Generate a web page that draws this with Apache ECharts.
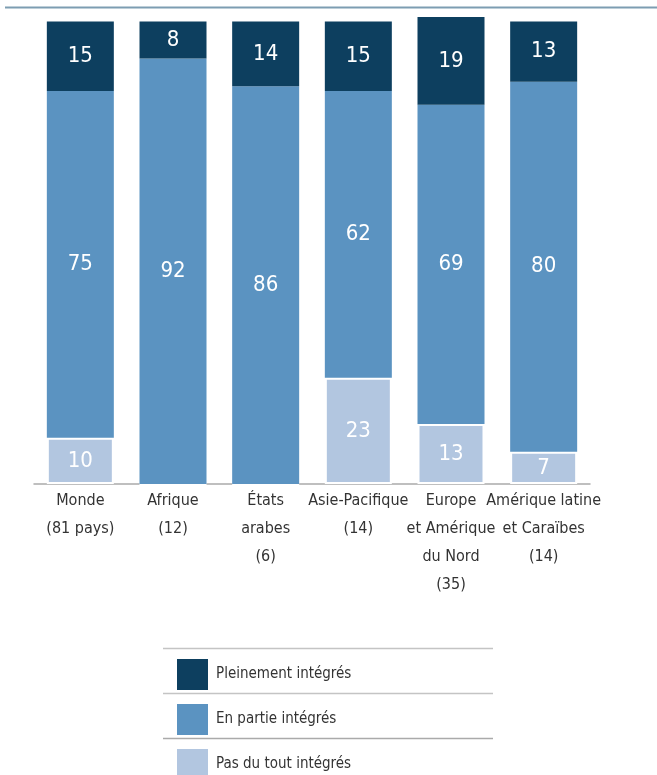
<!DOCTYPE html>
<html>
<head>
<meta charset="utf-8">
<script src="https://cdn.jsdelivr.net/npm/echarts@6/dist/echarts.min.js"></script>
<style>
  html, body { margin: 0; padding: 0; background: #fff; }
  #chart { width: 657px; height: 775px; }
</style>
</head>
<body>
<div id="chart"></div>
<script>
var regions = ['Monde\n(81 pays)', 'Afrique\n(12)', 'États\narabes\n(6)', 'Asie-Pacifique\n(14)',
               'Europe\net Amérique\ndu Nord\n(35)', 'Amérique latine\net Caraïbes\n(14)'];
var pasDuTout = [10, 0, 0, 23, 13, 7];
var enPartie = [75, 92, 86, 62, 69, 80];
var pleinement = [15, 8, 14, 15, 19, 13];
var legendNames = ['Pleinement intégrés', 'En partie intégrés', 'Pas du tout intégrés'];

var FONT = "'DejaVu Sans Condensed', 'Liberation Sans', sans-serif";

function hideZero(p) {
    return p.value ? p.value : '';
}

function barSeries(name, data, color, border) {
    return {
        name: name,
        type: 'bar',
        stack: 'total',
        barWidth: 67,
        data: data,
        itemStyle: {
            color: color,
            borderColor: '#fff',
            borderWidth: border
        },
        label: {
            show: true,
            position: 'inside',
            color: '#fff',
            fontFamily: FONT,
            fontSize: 22,
            formatter: hideZero
        }
    };
}

// one legend per row, so it never wraps into columns
function legendRow(name, top) {
    return {
        orient: 'vertical',
        left: 172,
        top: top,
        itemWidth: 31,
        itemHeight: 31,
        icon: 'rect',
        itemStyle: { borderWidth: 0 },
        data: [name],
        textStyle: { fontFamily: FONT, fontSize: 15, color: '#333', padding: [0, 0, 0, 3] },
        selectedMode: false
    };
}

var myChart = echarts.init(document.getElementById('chart'));
var option = {
    animation: false,
    grid: { left: 34, right: 67, top: 17, bottom: 291 },
    legend: [
        legendRow(legendNames[0], 654),
        legendRow(legendNames[1], 699),
        legendRow(legendNames[2], 744)
    ],
    xAxis: {
        type: 'category',
        data: regions,
        axisLine: { lineStyle: { color: '#aaa', width: 1.5 } },
        axisTick: { inside: true, length: 13, lineStyle: { color: '#aaa', width: 1.5 } },
        axisLabel: {
            interval: 0,
            margin: 3,
            color: '#333',
            fontFamily: FONT,
            fontSize: 16,
            lineHeight: 28
        }
    },
    yAxis: {
        type: 'value',
        min: 0,
        max: 101,
        show: false
    },
    graphic: [
        { type: 'line', shape: { x1: 5, y1: 7.5, x2: 657, y2: 7.5 }, style: { stroke: '#7d9db2', lineWidth: 2 } },
        { type: 'line', shape: { x1: 163, y1: 648.5, x2: 493, y2: 648.5 }, style: { stroke: '#c4c4c4', lineWidth: 1.5 } },
        { type: 'line', shape: { x1: 163, y1: 693.5, x2: 493, y2: 693.5 }, style: { stroke: '#c4c4c4', lineWidth: 1.5 } },
        { type: 'line', shape: { x1: 163, y1: 738.5, x2: 493, y2: 738.5 }, style: { stroke: '#aaaaaa', lineWidth: 1.5 } }
    ],
    series: [
        barSeries(legendNames[2], pasDuTout, '#b2c6e0', 2),
        barSeries(legendNames[1], enPartie, '#5b93c1', 0),
        barSeries(legendNames[0], pleinement, '#0d3f5f', 0)
    ]
};
myChart.setOption(option, true);
</script>
</body>
</html>
